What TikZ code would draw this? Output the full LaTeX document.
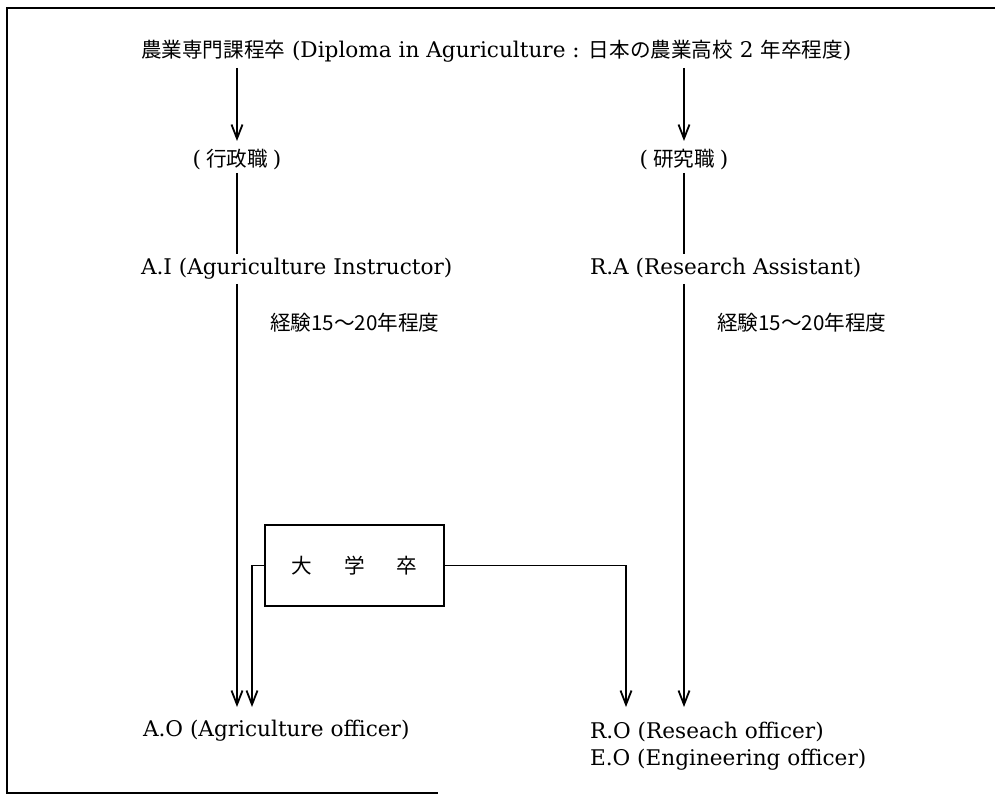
\documentclass[tikz,border=0pt]{standalone}
\usepackage{fontspec}
\setmainfont{DejaVu Serif}
\newfontfamily\J{Noto Sans CJK JP}
\newcommand\JJ[1]{{\J\fontsize{10.3}{12}\selectfont #1}}
\usetikzlibrary{arrows.meta,calc}
\begin{document}
\begin{tikzpicture}[x=0.5pt,y=-0.5pt,
  font=\fontsize{10.8}{12}\selectfont,
  txt/.style={inner sep=0pt,outer sep=0pt,text height=8pt,text depth=2pt},
  conn/.style={line width=0.9pt},
  arr/.style={conn,-{Straight Barb[length=7pt,width=5.5pt,line width=0.9pt]}},
  frame/.style={line width=1pt}]
\useasboundingbox (0,0) rectangle (995,795);
% frame
\draw[frame] (995,8) -- (7,8) -- (7,793) -- (438,793);
% nodes
\node[txt,anchor=west] (title) at (141,52) {\JJ{農業専門課程卒} (Diploma in Aguriculture : \JJ{日本の農業高校} 2 \JJ{年卒程度})};
\node[txt] (gy) at (237,161) {(\hspace{2.5pt}\JJ{行政職}\hspace{2.5pt})};
\node[txt] (kk) at (684,161) {(\hspace{2.5pt}\JJ{研究職}\hspace{2.5pt})};
\node[txt,anchor=west] (ai) at (141,269) {A.I (Aguriculture Instructor)};
\node[txt,anchor=west] (ra) at (590,269) {R.A (Research Assistant)};
\node[txt,anchor=west] (ex1) at (270,325) {\JJ{経験15〜20年程度}};
\node[txt,anchor=west] (ex2) at (717,325) {\JJ{経験15〜20年程度}};
\node[draw,line width=0.9pt,minimum width=89.5pt,minimum height=40.5pt,inner sep=0pt] (box) at (354.5,565.5) {\JJ{大\hspace{16pt}学\hspace{16pt}卒}};
\node[txt,anchor=west] (ao) at (143,730) {A.O (Agriculture officer)};
\node[txt,anchor=west] (ro) at (590,732) {R.O (Reseach officer)};
\node[txt,anchor=west] (eo) at (590,759) {E.O (Engineering officer)};
% left column
\draw[arr,shorten <=3pt,shorten >=5pt] (title.south -| gy.north) -- (gy.north);
\draw[conn,shorten <=1pt,shorten >=2.5pt] (gy.south) -- (gy.south |- ai.north);
\draw[arr,shorten <=2.5pt,shorten >=6.5pt] (ai.south -| gy.south) -- (ao.north -| gy.south);
% right column
\draw[arr,shorten <=3pt,shorten >=5pt] (title.south -| kk.north) -- (kk.north);
\draw[conn,shorten <=1pt,shorten >=2.5pt] (kk.south) -- (kk.south |- ra.north);
\draw[arr,shorten <=2.5pt,shorten >=7.5pt] (ra.south -| kk.south) -- (ro.north -| kk.south);
% university graduate links
\coordinate (lj) at (252,565);
\coordinate (rj) at (626,565);
\draw[arr,shorten >=6.5pt] (box.west) -| (lj |- ao.north);
\draw[arr,shorten >=7.5pt] (box.east) -| (rj |- ro.north);
\end{tikzpicture}
\end{document}
